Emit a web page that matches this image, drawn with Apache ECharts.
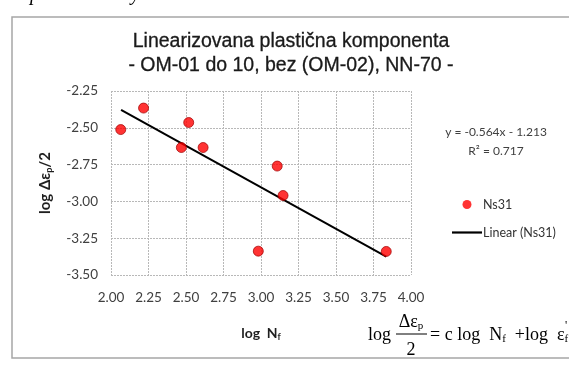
<!DOCTYPE html>
<html>
<head>
<meta charset="utf-8">
<script src="https://cdn.jsdelivr.net/npm/echarts@6/dist/echarts.min.js"></script>
<style>
html,body{margin:0;padding:0;background:#fff;}
#c{width:569px;height:367px;}
</style>
</head>
<body>
<div id="c"></div>
<script>
// ---- data ----
const logNf = [2.065, 2.217, 2.469, 2.518, 2.614, 2.982, 3.108, 3.147, 3.835];
const logEps = [-2.512, -2.366, -2.634, -2.464, -2.634, -3.338, -2.760, -2.960, -3.340];
const trendX = [2.067, 3.835];
const trendY = [-2.379, -3.376];
const xTicks = [2.00, 2.25, 2.50, 2.75, 3.00, 3.25, 3.50, 3.75, 4.00];
const yTicks = [-2.25, -2.50, -2.75, -3.00, -3.25, -3.50];
const seriesName = 'Ns31';
const trendName = 'Linear (Ns31)';
const titleLines = ['Linearizovana plastična komponenta', '- OM-01 do 10, bez (OM-02), NN-70 -'];
const eqText = 'y = -0.564x - 1.213';
const r2Text = 'R² = 0.717';

const chart = echarts.init(document.getElementById('c'), null, {renderer: 'canvas'});
const tickFont = 'Lato';
const serif = 'Liberation Serif';

const option = {
  backgroundColor: '#ffffff',
  animation: false,
  title: {
    text: titleLines.join('\n'),
    left: 291,
    top: 30,
    padding: 0,
    textAlign: 'center',
    textStyle: {fontFamily: 'Liberation Sans', fontSize: 19.5, fontWeight: 'normal', color: '#1a1a1a', lineHeight: 23.5,
      textBorderColor: '#1a1a1a', textBorderWidth: 0.3}
  },
  grid: {left: 111, top: 91, width: 300, height: 184, containLabel: false},
  xAxis: {
    type: 'value', min: xTicks[0], max: xTicks[xTicks.length - 1], interval: 0.25,
    axisLine: {show: false}, axisTick: {show: false},
    splitLine: {show: true, lineStyle: {color: '#b8b8b8', type: [2, 1], width: 1}},
    axisLabel: {margin: 16, fontFamily: tickFont, fontSize: 13.5, color: '#404040', formatter: v => v.toFixed(2)},
    name: 'log  N{s|f}', nameLocation: 'middle', nameGap: 50,
    nameTextStyle: {fontFamily: tickFont, fontSize: 14, fontWeight: 'bold', color: '#1f1f1f',
      rich: {s: {fontFamily: tickFont, fontSize: 9, fontWeight: 'bold', color: '#1f1f1f', padding: [8, 0, 0, 0]}}}
  },
  yAxis: {
    type: 'value', min: yTicks[yTicks.length - 1], max: yTicks[0], interval: 0.25,
    axisLine: {show: false}, axisTick: {show: false},
    splitLine: {show: true, lineStyle: {color: '#b8b8b8', type: [2, 1], width: 1}},
    axisLabel: {margin: 13, fontFamily: tickFont, fontSize: 13.5, color: '#404040', formatter: v => v.toFixed(2)},
    name: 'log Δε{s|p}/2', nameLocation: 'middle', nameGap: 57, nameRotate: 90,
    nameTextStyle: {fontFamily: tickFont, fontSize: 15, fontWeight: 'bold', color: '#1f1f1f',
      rich: {s: {fontFamily: tickFont, fontSize: 9, fontWeight: 'bold', color: '#1f1f1f', padding: [9, 0, 0, 0]}}}
  },
  legend: {
    orient: 'vertical', left: 447, top: 193, itemWidth: 30, itemHeight: 9, itemGap: 15,
    symbolKeepAspect: true,
    textStyle: {fontFamily: tickFont, fontSize: 12.5, color: '#333333', padding: [0, 0, 0, -4]},
    data: [
      {name: seriesName, icon: 'circle', itemStyle: {borderWidth: 0}},
      {name: trendName, icon: 'path://M0,0H30V2.2H0Z'}
    ]
  },
  series: [
    {
      name: seriesName, type: 'scatter', symbol: 'circle', symbolSize: 10,
      itemStyle: {color: '#ff0000', borderColor: '#a00000', borderWidth: 0.9},
      data: logNf.map((x, i) => [x, logEps[i]]), z: 3
    },
    {
      name: trendName, type: 'line', symbol: 'none', showSymbol: false,
      lineStyle: {color: '#000000', width: 2}, itemStyle: {color: '#000000'},
      data: trendX.map((x, i) => [x, trendY[i]]), z: 2
    }
  ],
  graphic: [
    {type: 'rect', shape: {x: 12, y: 17, width: 580, height: 341}, style: {fill: 'none', stroke: '#a6a6a6', lineWidth: 1.5}, silent: true, z: -10},
    {type: 'text', x: 30, y: -5, style: {text: 'p', font: 'italic 20px ' + serif, fill: '#000', verticalAlign: 'middle'}},
    {type: 'text', x: 131, y: -5, style: {text: 'y', font: 'italic 20px ' + serif, fill: '#000', verticalAlign: 'middle'}},
    {type: 'text', x: 496, y: 132, style: {text: eqText, font: '12px ' + tickFont, fill: '#404040', align: 'center', verticalAlign: 'middle'}},
    {type: 'text', x: 496, y: 151, style: {text: r2Text, font: '12px ' + tickFont, fill: '#404040', align: 'center', verticalAlign: 'middle'}},
    {type: 'text', x: 368, y: 335, style: {text: 'log', font: '18px ' + serif, fill: '#000', verticalAlign: 'middle'}},
    {type: 'text', x: 411, y: 322, style: {text: 'Δε{s|p}', font: '18px ' + serif, fill: '#000', align: 'center', verticalAlign: 'middle',
      rich: {s: {font: '11px ' + serif, fill: '#000', padding: [8, 0, 0, 0]}}}},
    {type: 'line', shape: {x1: 396, y1: 334, x2: 427, y2: 334}, style: {stroke: '#000', lineWidth: 1}},
    {type: 'text', x: 411, y: 350, style: {text: '2', font: '18px ' + serif, fill: '#000', align: 'center', verticalAlign: 'middle'}},
    {type: 'text', x: 430, y: 335, style: {text: '= c log  N{s|f}  +log  ε{s|f}', font: '18px ' + serif, fill: '#000', verticalAlign: 'middle',
      rich: {s: {font: '11px ' + serif, fill: '#000', padding: [8, 0, 0, 0]}}}},
    {type: 'text', x: 565, y: 326, style: {text: "'", font: '12px ' + serif, fill: '#000', verticalAlign: 'middle'}}
  ]
};
chart.setOption(option);
</script>
</body>
</html>
